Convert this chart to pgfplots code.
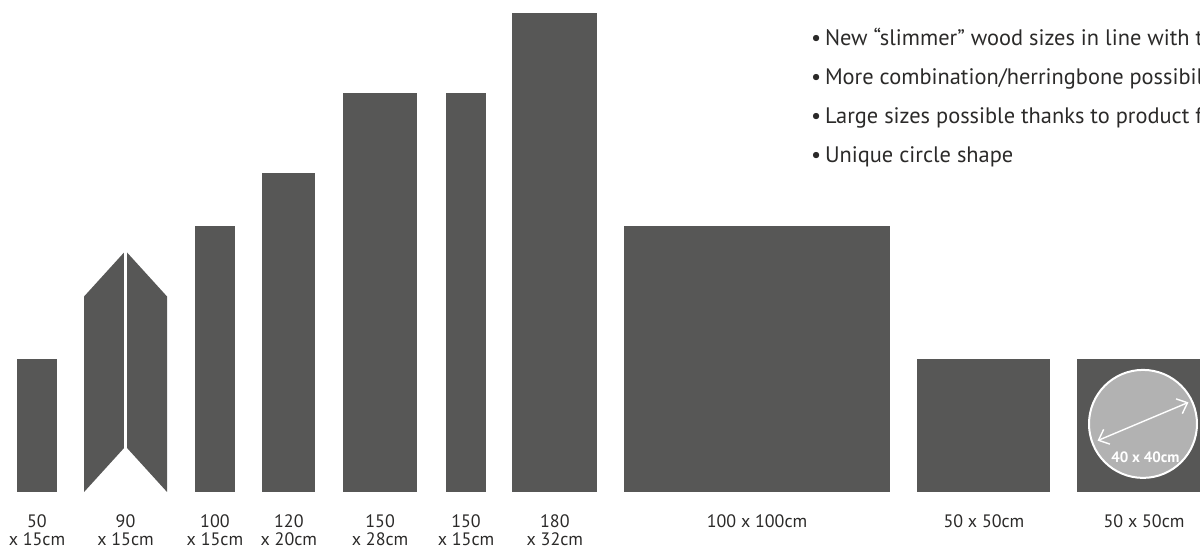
\documentclass[border=0pt]{standalone}
\usepackage{pgfplots}
\pgfplotsset{compat=1.18}
\usepackage{fontspec}
\setmainfont{PT Sans}
\usetikzlibrary{arrows.meta}
\definecolor{bar}{HTML}{575756}
\definecolor{disc}{HTML}{B2B2B2}
\definecolor{txt}{HTML}{2B2A29}
\begin{document}
\begin{tikzpicture}
\begin{axis}[
  at={(0,0)}, anchor=south west,
  scale only axis, width=600pt, height=273.5pt,
  xmin=0, xmax=451.13, ymin=-20.68, ymax=184.96,
  hide axis, clip=false,
]
% single boards (x from, x to, length in cm)
\addplot[fill=bar, draw=none] coordinates {(6.4,0) (21.4,0) (21.4,50) (6.4,50)};
% herringbone pair 90 x 15
\addplot[fill=bar, draw=none] coordinates {(31.6,0) (46.6,16.5) (46.6,90) (31.6,73.5)};
\addplot[fill=bar, draw=none] coordinates {(62.8,0) (47.8,16.5) (47.8,90) (62.8,73.5)};
\addplot[fill=bar, draw=none] coordinates {(73.3,0) (88.3,0) (88.3,100) (73.3,100)};
\addplot[fill=bar, draw=none] coordinates {(98.5,0) (118.5,0) (118.5,120) (98.5,120)};
\addplot[fill=bar, draw=none] coordinates {(128.9,0) (156.9,0) (156.9,150) (128.9,150)};
\addplot[fill=bar, draw=none] coordinates {(167.7,0) (182.7,0) (182.7,150) (167.7,150)};
\addplot[fill=bar, draw=none] coordinates {(192.5,0) (224.5,0) (224.5,180) (192.5,180)};
\addplot[fill=bar, draw=none] coordinates {(234.6,0) (334.6,0) (334.6,100) (234.6,100)};
\addplot[fill=bar, draw=none] coordinates {(344.7,0) (394.7,0) (394.7,50) (344.7,50)};
\addplot[fill=bar, draw=none] coordinates {(404.9,0) (454.9,0) (454.9,50) (404.9,50)};
% circle 40 x 40
\draw[fill=disc, draw=white, line width=1pt] (axis cs:429.7,25.6) circle[radius=20.3];
\draw[white, line width=0.7pt, {Straight Barb[length=4.5pt,width=8pt]}-{Straight Barb[length=4.5pt,width=8pt]}] (axis cs:412.6,19.3) -- (axis cs:446.8,33.7);
\node[white, font=\fontsize{7.5}{8}\selectfont\bfseries] at (axis cs:430.6,13.0) {40 x 40cm};
% bullet text
\begin{scope}[every node/.style={anchor=base west, inner sep=0pt, text=txt, font=\fontsize{11.2}{13}\selectfont}]
\node at (axis cs:304.8,168.0) {•\,New “slimmer” wood sizes in line with trends};
\node at (axis cs:304.8,153.3) {•\,More combination/herringbone possibilities};
\node at (axis cs:304.8,138.7) {•\,Large sizes possible thanks to product features};
\node at (axis cs:304.8,124.0) {•\,Unique circle shape};
\end{scope}
% size labels
\begin{scope}[every node/.style={anchor=base, inner sep=0pt, text=txt, font=\fontsize{9}{10}\selectfont}]
\node at (axis cs:13.9,-13.2) {50};      \node at (axis cs:13.9,-20.3) {x 15cm};
\node at (axis cs:47.2,-13.2) {90};      \node at (axis cs:47.2,-20.3) {x 15cm};
\node at (axis cs:80.8,-13.2) {100};     \node at (axis cs:80.8,-20.3) {x 15cm};
\node at (axis cs:108.6,-13.2) {120};    \node at (axis cs:108.6,-20.3) {x 20cm};
\node at (axis cs:142.9,-13.2) {150};    \node at (axis cs:142.9,-20.3) {x 28cm};
\node at (axis cs:175.2,-13.2) {150};    \node at (axis cs:175.2,-20.3) {x 15cm};
\node at (axis cs:208.6,-13.2) {180};    \node at (axis cs:208.6,-20.3) {x 32cm};
\node at (axis cs:284.6,-13.2) {100 x 100cm};
\node at (axis cs:369.9,-13.2) {50 x 50cm};
\node at (axis cs:430.1,-13.2) {50 x 50cm};
\end{scope}
\end{axis}
\pgfresetboundingbox
\useasboundingbox (0,0) rectangle (600pt,273.5pt);
\end{tikzpicture}
\end{document}
